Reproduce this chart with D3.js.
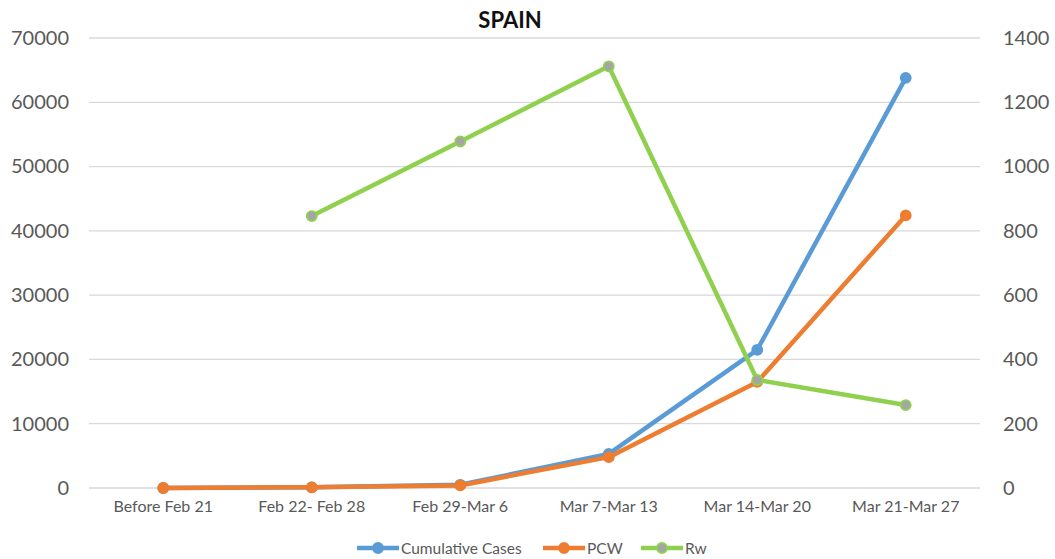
<!DOCTYPE html>
<html>
<head>
<meta charset="utf-8">
<script src="https://cdn.jsdelivr.net/npm/d3@7"></script>
<style>
  body { margin: 0; background: #fff; }
  text { font-family: Lato, "Open Sans", sans-serif; }
</style>
</head>
<body>
<div id="chart"></div>
<script>
var categories = ["Before Feb 21", "Feb 22- Feb 28", "Feb 29-Mar 6", "Mar 7-Mar 13", "Mar 14-Mar 20", "Mar 21-Mar 27"];
var cumulativeCases = [2, 100, 500, 5300, 21500, 63800];
var pcw = [2, 100, 400, 4800, 16500, 42400];
var rw = [null, 846, 1078, 1312, 336, 258];
var leftTicks = [0, 10000, 20000, 30000, 40000, 50000, 60000, 70000];
var rightTicks = [0, 200, 400, 600, 800, 1000, 1200, 1400];

var width = 1055, height = 559;
var margin = {top: 38, right: 75, bottom: 71, left: 89};
var innerW = width - margin.left - margin.right,
    innerH = height - margin.top - margin.bottom;

var svg = d3.select("#chart").append("svg")
  .attr("width", width)
  .attr("height", height);

var g = svg.append("g")
  .attr("transform", "translate(" + margin.left + "," + margin.top + ")");

var xScale = d3.scaleBand().domain(categories).range([0, innerW]);
var yLeft = d3.scaleLinear().domain([0, 70000]).range([innerH, 0]);
var yRight = d3.scaleLinear().domain([0, 1400]).range([innerH, 0]);

// gridlines
g.selectAll(".grid").data(leftTicks).enter().append("line")
  .attr("x1", 0).attr("x2", innerW)
  .attr("y1", function(d) { return yLeft(d); })
  .attr("y2", function(d) { return yLeft(d); })
  .attr("stroke", "#d9d9d9")
  .attr("stroke-width", 1.3);

var leftAxis = g.append("g")
  .call(d3.axisLeft(yLeft).tickValues(leftTicks).tickSize(0).tickPadding(20).tickFormat(d3.format("d")));
leftAxis.select(".domain").remove();
leftAxis.selectAll("text").attr("fill", "#595959").style("font-size", "20px");

var rightAxis = g.append("g")
  .attr("transform", "translate(" + innerW + ",0)")
  .call(d3.axisRight(yRight).tickValues(rightTicks).tickSize(0).tickPadding(23).tickFormat(d3.format("d")));
rightAxis.select(".domain").remove();
rightAxis.selectAll("text").attr("fill", "#595959").style("font-size", "20px");

var xAxis = g.append("g")
  .attr("transform", "translate(0," + innerH + ")")
  .call(d3.axisBottom(xScale).tickSize(0).tickPadding(13));
xAxis.select(".domain").remove();
xAxis.selectAll("text").attr("fill", "#595959").style("font-size", "16px");

function cx(d, i) { return xScale(categories[i]) + xScale.bandwidth() / 2; }

var series = [
  {name: "Cumulative Cases", values: cumulativeCases, scale: yLeft, color: "#5b9bd5", fill: "#5b9bd5"},
  {name: "PCW", values: pcw, scale: yLeft, color: "#ed7d31", fill: "#ed7d31"},
  {name: "Rw", values: rw, scale: yRight, color: "#8fd14f", fill: "#a5a5a5"}
];

series.forEach(function(s) {
  var line = d3.line()
    .defined(function(d) { return d !== null; })
    .x(function(d, i) { return cx(d, i); })
    .y(function(d) { return s.scale(d); });
  g.append("path")
    .datum(s.values)
    .attr("fill", "none")
    .attr("stroke", s.color)
    .attr("stroke-width", 4.5)
    .attr("stroke-linejoin", "round")
    .attr("d", line);
  g.selectAll(null)
    .data(s.values.map(function(v, i) { return {v: v, i: i}; }).filter(function(d) { return d.v !== null; }))
    .enter().append("circle")
    .attr("cx", function(d) { return cx(d.v, d.i); })
    .attr("cy", function(d) { return s.scale(d.v); })
    .attr("r", 5)
    .attr("fill", s.fill)
    .attr("stroke", s.color)
    .attr("stroke-width", 1.8);
});

// title
svg.append("text")
  .attr("x", 510).attr("y", 28)
  .attr("text-anchor", "middle")
  .attr("font-weight", "bold")
  .style("font-size", "22px")
  .attr("fill", "#111")
  .text("SPAIN");

// legend
var legendX = [357, 543, 641];
var legend = svg.append("g");
series.forEach(function(s, i) {
  var lg = legend.append("g").attr("transform", "translate(" + legendX[i] + ",548)");
  lg.append("line").attr("x1", 0).attr("x2", 42).attr("y1", 0).attr("y2", 0)
    .attr("stroke", s.color).attr("stroke-width", 4.5);
  lg.append("circle").attr("cx", 21).attr("cy", 0).attr("r", 5)
    .attr("fill", s.fill).attr("stroke", s.color).attr("stroke-width", 1.8);
  lg.append("text").attr("x", 44).attr("y", 6)
    .attr("fill", "#595959").style("font-size", "15.5px")
    .text(s.name);
});
</script>
</body>
</html>
